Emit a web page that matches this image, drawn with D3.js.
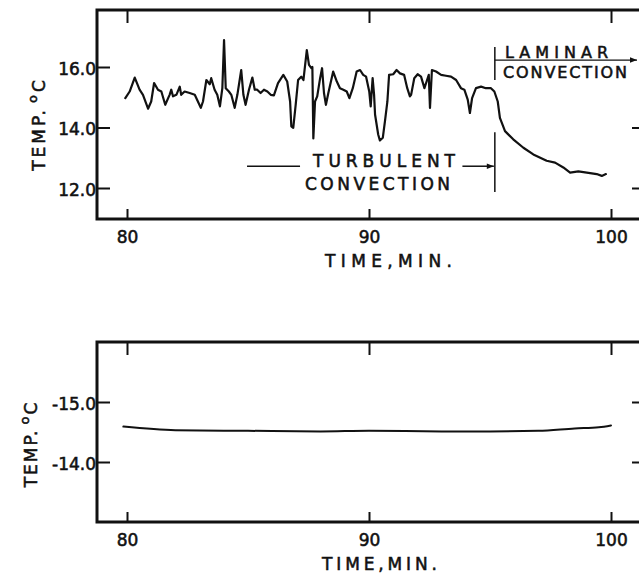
<!DOCTYPE html>
<html>
<head>
<meta charset="utf-8">
<script src="https://cdn.jsdelivr.net/npm/d3@7"></script>
<style>
  body { margin: 0; background: #fff; }
  svg text { font-family: "DejaVu Sans", sans-serif; fill: #111; stroke: #111; stroke-width: 0.55px; }
</style>
</head>
<body>
<svg id="chart" width="639" height="577"></svg>
<script>
// ---------- data ----------
const topTime = [79.93,80.11,80.32,80.52,80.66,80.87,81.00,81.12,81.28,81.42,81.58,81.76,81.83,81.90,82.04,82.18,82.24,82.38,82.59,82.80,82.93,83.05,83.14,83.28,83.42,83.48,83.62,83.73,83.84,83.94,84.01,84.08,84.21,84.31,84.45,84.56,84.72,84.81,84.90,85.04,85.18,85.28,85.38,85.52,85.66,85.80,85.94,86.07,86.24,86.46,86.62,86.74,86.79,86.87,86.97,87.07,87.20,87.29,87.43,87.52,87.62,87.66,87.70,87.77,87.86,87.98,88.06,88.14,88.22,88.32,88.52,88.67,88.80,88.94,89.08,89.19,89.33,89.49,89.63,89.76,89.88,90.01,90.07,90.15,90.21,90.25,90.38,90.45,90.57,90.66,90.76,90.83,91.00,91.14,91.28,91.45,91.58,91.69,91.74,91.87,92.01,92.15,92.29,92.38,92.47,92.52,92.60,92.77,92.98,93.18,93.39,93.60,93.80,93.94,94.08,94.17,94.26,94.42,94.63,94.83,95.04,95.18,95.32,95.41,95.62,95.96,96.38,96.79,97.34,97.69,98.03,98.31,98.65,99.00,99.41,99.62,99.79];
const topTemp = [14.97,15.19,15.65,15.25,15.08,14.62,14.86,15.47,15.25,15.19,14.75,15.08,15.25,15.03,15.08,15.35,15.08,15.19,15.14,15.08,14.86,14.65,14.86,15.57,15.43,15.63,15.25,15.08,14.70,15.30,16.89,15.30,15.19,15.08,14.65,15.08,15.90,15.08,14.75,15.25,15.65,15.25,15.25,15.14,15.25,15.19,15.08,15.06,15.47,15.74,15.52,14.86,14.04,13.99,14.75,15.57,15.68,15.57,16.56,16.07,15.96,16.00,13.64,14.86,15.03,15.63,15.96,15.14,14.75,15.14,15.85,15.52,15.30,15.25,15.19,14.97,15.30,15.85,15.90,15.74,15.68,15.19,14.70,15.63,15.08,14.43,13.77,13.57,13.66,14.21,14.86,15.74,15.76,15.90,15.79,15.74,15.30,15.03,15.08,15.63,15.76,15.68,15.30,15.52,15.74,14.65,15.90,15.85,15.74,15.71,15.68,15.57,15.30,15.25,14.92,14.48,14.97,15.30,15.35,15.30,15.30,15.19,14.86,14.32,13.88,13.61,13.33,13.11,12.90,12.84,12.68,12.51,12.55,12.51,12.46,12.40,12.46];

const bottomTime = [79.85,82,85,88,90,93,95,97,98.5,99.5,100];
const bottomTemp = [-14.59,-14.53,-14.52,-14.51,-14.52,-14.51,-14.51,-14.52,-14.56,-14.58,-14.61];

const xTicks = [80, 90, 100];
const xTickLabels = ["80", "90", "100"];
const topYTicks = [16, 14, 12];
const topYTickLabels = ["16.0", "14.0", "12.0"];
const topRightTicks = [14, 12];
const bottomYTicks = [-15, -14];
const bottomYTickLabels = ["-15.0", "-14.0"];
const xTitle = "TIME,MIN.";

// annotation anchors (data units)
const transitionTime = 95.2;
const turbulentArrowTemp = 12.72;
const laminarArrowTemp = 16.23;

// ---------- layout ----------
const svg = d3.select("#chart");
const INK = "#111";
const frameLeft = 97, frameRight = 641;
const topPanel = { top: 10, bottom: 219 };
const botPanel = { top: 342, bottom: 522 };

const x = d3.scaleLinear().domain([80, 100]).range([127, 611]);
const yTop = d3.scaleLinear().domain([12, 16]).range([188, 67]);
const yBot = d3.scaleLinear().domain([-15, -14]).range([402, 462]);

function styleAxis(g, size) {
  g.attr("font-family", "DejaVu Sans, sans-serif").attr("font-size", size);
  g.select(".domain").remove();
  g.selectAll(".tick line").attr("stroke", INK).attr("stroke-width", 2);
  g.selectAll(".tick text").attr("fill", INK);
}

function panel(p, yScale, yTicks, yLabels, rightTicks) {
  svg.append("rect")
    .attr("x", frameLeft).attr("y", p.top)
    .attr("width", frameRight - frameLeft).attr("height", p.bottom - p.top)
    .attr("fill", "none").attr("stroke", INK).attr("stroke-width", 3);

  const gb = svg.append("g").attr("transform", `translate(0,${p.bottom})`)
    .call(d3.axisBottom(x).tickValues(xTicks).tickSize(-10).tickPadding(12)
      .tickFormat((d, i) => xTickLabels[i]));
  styleAxis(gb, 17);

  const gt = svg.append("g").attr("transform", `translate(0,${p.top})`)
    .call(d3.axisTop(x).tickValues(xTicks).tickSize(-13).tickFormat(""));
  styleAxis(gt, 17);

  const gl = svg.append("g").attr("transform", `translate(${frameLeft},0)`)
    .call(d3.axisLeft(yScale).tickValues(yTicks).tickSize(-13).tickPadding(1)
      .tickFormat((d, i) => yLabels[i]));
  styleAxis(gl, 17);
  gl.selectAll(".tick text").attr("dy", "0.42em");

  const gr = svg.append("g").attr("transform", `translate(${frameRight},0)`)
    .call(d3.axisRight(yScale).tickValues(rightTicks).tickSize(-9).tickFormat(""));
  styleAxis(gr, 17);
}

panel(topPanel, yTop, topYTicks, topYTickLabels, topRightTicks);
panel(botPanel, yBot, bottomYTicks, bottomYTickLabels, bottomYTicks);

// ---------- curves ----------
const topData = topTime.map((t, i) => ({ t, v: topTemp[i] }));
const botData = bottomTime.map((t, i) => ({ t, v: bottomTemp[i] }));

svg.append("path").datum(topData)
  .attr("fill", "none").attr("stroke", INK).attr("stroke-width", 2.2)
  .attr("stroke-linejoin", "round").attr("stroke-linecap", "round")
  .attr("d", d3.line().x(d => x(d.t)).y(d => yTop(d.v)));

svg.append("path").datum(botData)
  .attr("fill", "none").attr("stroke", INK).attr("stroke-width", 2)
  .attr("stroke-linejoin", "round").attr("stroke-linecap", "round")
  .attr("d", d3.line().curve(d3.curveMonotoneX).x(d => x(d.t)).y(d => yBot(d.v)));

// ---------- axis titles ----------
function xTitleText(xStart, baseline, len) {
  svg.append("text").attr("x", xStart).attr("y", baseline)
    .attr("font-size", 17).attr("textLength", len).attr("lengthAdjust", "spacing")
    .text(xTitle);
}
xTitleText(325, 267, 127);
xTitleText(322, 570, 115);

function yTitle(cx, cy, spacing) {
  const t = svg.append("text")
    .attr("transform", `translate(${cx},${cy}) rotate(-90)`)
    .attr("text-anchor", "middle").attr("font-size", 17)
    .attr("letter-spacing", spacing);
  t.append("tspan").text("TEMP.");
  t.append("tspan").attr("dx", 4).attr("dy", -8).attr("font-size", 13).text("o");
  t.append("tspan").attr("dy", 8).text("C");
}
yTitle(45, 124, 3);
yTitle(37, 444, 2);

// ---------- annotations ----------
const defs = svg.append("defs");
defs.append("marker").attr("id", "arrow")
  .attr("viewBox", "0 0 10 10").attr("refX", 10).attr("refY", 5)
  .attr("markerWidth", 9).attr("markerHeight", 7).attr("markerUnits", "userSpaceOnUse")
  .attr("orient", "auto")
  .append("path").attr("d", "M0,1 L10,5 L0,9 Z").attr("fill", INK);

const xT = x(transitionTime);
svg.append("line").attr("x1", xT).attr("x2", xT)
  .attr("y1", yTop(16.66)).attr("y2", yTop(15.57))
  .attr("stroke", INK).attr("stroke-width", 1.5);
svg.append("line").attr("x1", xT).attr("x2", xT)
  .attr("y1", yTop(13.84)).attr("y2", yTop(11.87))
  .attr("stroke", INK).attr("stroke-width", 1.5);

const yA = yTop(turbulentArrowTemp);
svg.append("line").attr("x1", x(84.96)).attr("x2", x(87.15))
  .attr("y1", yA).attr("y2", yA).attr("stroke", INK).attr("stroke-width", 1.5);
svg.append("line").attr("x1", x(93.86)).attr("x2", xT - 1)
  .attr("y1", yA).attr("y2", yA).attr("stroke", INK).attr("stroke-width", 1.5)
  .attr("marker-end", "url(#arrow)");
svg.append("text").attr("x", 313).attr("y", 167).attr("font-size", 17)
  .attr("textLength", 142).attr("lengthAdjust", "spacing").text("TURBULENT");
svg.append("text").attr("x", 305).attr("y", 190).attr("font-size", 17)
  .attr("textLength", 145).attr("lengthAdjust", "spacing").text("CONVECTION");

const yL = yTop(laminarArrowTemp);
svg.append("line").attr("x1", xT).attr("x2", 637)
  .attr("y1", yL).attr("y2", yL).attr("stroke", INK).attr("stroke-width", 1.2)
  .attr("marker-end", "url(#arrow)");
svg.append("text").attr("x", 505).attr("y", 58).attr("font-size", 16)
  .attr("textLength", 103).attr("lengthAdjust", "spacing").text("LAMINAR");
svg.append("text").attr("x", 503).attr("y", 78).attr("font-size", 16)
  .attr("textLength", 124).attr("lengthAdjust", "spacing").text("CONVECTION");
</script>
</body>
</html>
